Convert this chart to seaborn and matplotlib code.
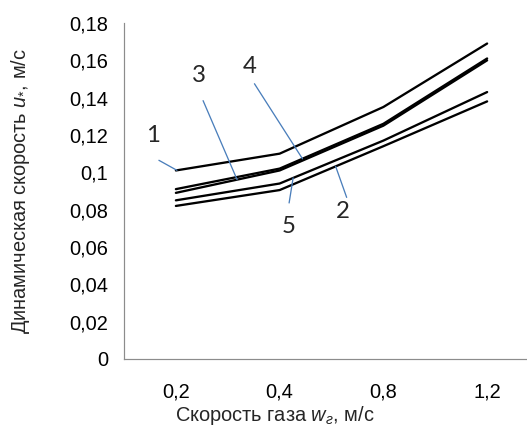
import matplotlib
matplotlib.use("Agg")
import matplotlib.pyplot as plt
import seaborn as sns
import numpy as np
import pandas as pd
from matplotlib.ticker import FuncFormatter

# gas velocity categories (Excel category axis)
gas_speed = ["0,2", "0,4", "0,8", "1,2"]

# dynamic velocity u*, m/s
curve_1 = [0.101, 0.110, 0.135, 0.169]
curve_2 = [0.082, 0.0905, 0.114, 0.138]
curve_3 = [0.089, 0.101, 0.125, 0.160]
curve_4 = [0.091, 0.102, 0.126, 0.161]
curve_5 = [0.085, 0.094, 0.117, 0.143]

curves = {"1": curve_1, "2": curve_2, "3": curve_3, "4": curve_4, "5": curve_5}

df = pd.concat(
    [pd.DataFrame({"x": gas_speed, "u": vals, "curve": name}) for name, vals in curves.items()],
    ignore_index=True,
)

sns.set_style("white")
plt.rcParams["font.family"] = ["Liberation Sans", "DejaVu Sans"]
plt.rcParams["mathtext.fontset"] = "custom"
plt.rcParams["mathtext.rm"] = "Liberation Sans"
plt.rcParams["mathtext.it"] = "Liberation Sans:italic"

fig = plt.figure(figsize=(527 / 72, 427 / 72), dpi=72)
ax = fig.add_axes([124 / 527, 68 / 427, 415 / 527, 336 / 427])

sns.lineplot(data=df, x="x", y="u", hue="curve", palette=["black"] * 5,
             legend=False, ax=ax, linewidth=2.3, sort=False)

ax.set_xlim(-0.5, 3.5)
ax.set_ylim(0, 0.18)
ax.set_yticks(np.arange(0, 0.181, 0.02))
ax.yaxis.set_major_formatter(FuncFormatter(lambda v, p: f"{round(v, 2):g}".replace(".", ",")))
ax.tick_params(axis="both", length=0, labelsize=20, colors="black")
ax.tick_params(axis="y", pad=16)
ax.tick_params(axis="x", pad=23)

for s in ["top", "right"]:
    ax.spines[s].set_visible(False)
for s in ["left", "bottom"]:
    ax.spines[s].set_color("#8c8c8c")
    ax.spines[s].set_linewidth(1.2)

ax.set_xlabel("Скорость газа $\\mathit{w}_{\\mathit{г}}$, м/с", fontsize=20)
ax.set_ylabel("Динамическая скорость $\\mathit{u}_{*}$, м/с", fontsize=20)
ax.xaxis.set_label_coords(0.364, -0.135)
ax.yaxis.set_label_coords(-0.222, 0.5)

# leader lines: (curve, position along category axis, leader start offset, label offset) in pixels
leaders = [
    ("1", 0.01, (-18, 10), (-24, 35)),
    ("3", 0.59, (-34, 79), (-38, 104)),
    ("4", 1.22, (-48, 75), (-53, 92)),
    ("5", 1.13, (-4, -25), (-4, -49)),
    ("2", 1.54, (11, -31), (7, -45)),
]
idx = np.arange(len(gas_speed))
blue = "#4a7ebb"
for name, xp, start, lab in leaders:
    yp = np.interp(xp, idx, curves[name])
    ax.annotate("", xy=(xp, yp), xytext=start, textcoords="offset pixels",
                arrowprops=dict(arrowstyle="-", color=blue, lw=1.3, shrinkA=0, shrinkB=0))
    ax.annotate(name, xy=(xp, yp), xytext=lab, textcoords="offset pixels",
                ha="center", va="center", fontsize=24, family=["Lato", "DejaVu Sans"])

fig.savefig("out.png", dpi=72)
